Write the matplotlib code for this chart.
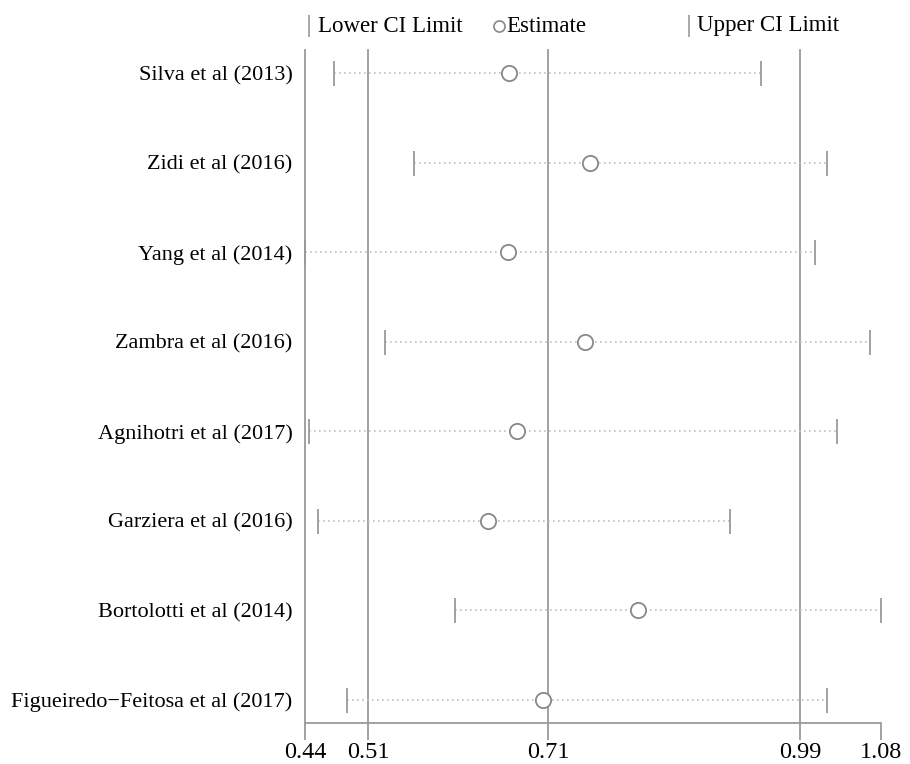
import numpy as np
import matplotlib.pyplot as plt

plt.rcParams['font.family'] = ['Liberation Serif', 'DejaVu Serif']

# Study labels (top to bottom) and values
studies = ['Silva et al (2013)', 'Zidi et al (2016)', 'Yang et al (2014)',
           'Zambra et al (2016)', 'Agnihotri et al (2017)', 'Garziera et al (2016)',
           'Bortolotti et al (2014)', 'Figueiredo\u2212Feitosa et al (2017)']
lower = [0.472, 0.561, 0.440, 0.529, 0.444, 0.454, 0.607, 0.487]
estimate = [0.667, 0.757, 0.666, 0.751, 0.676, 0.643, 0.810, 0.704]
upper = [0.947, 1.020, 1.007, 1.068, 1.031, 0.912, 1.080, 1.020]

xticks = [0.44, 0.51, 0.71, 0.99, 1.08]
ref_lines = [0.44, 0.51, 0.71, 0.99]

grey = '#9a9a9a'
W, H = 910, 764
fig = plt.figure(figsize=(W / 100, H / 100), dpi=100)
ax = fig.add_axes([305 / W, (H - 723) / H, (881 - 305) / W, (723 - 50) / H])

n = len(studies)
y = np.arange(n, 0, -1)

for xv in ref_lines:
    ax.axvline(xv, color=grey, lw=1.3, zorder=1, clip_on=False)

for yi, lo, est, up in zip(y, lower, estimate, upper):
    ax.plot([lo, up], [yi, yi], color='#c0c0c0', lw=1.2, ls=(0, (1, 2)), zorder=2)
ax.plot(lower, y, ls='none', marker='|', ms=18, mew=1.3, color=grey, zorder=3, clip_on=False)
ax.plot(upper, y, ls='none', marker='|', ms=18, mew=1.3, color=grey, zorder=3, clip_on=False)
ax.plot(estimate, y, ls='none', marker='o', ms=11, mfc='white', mec='#888888', mew=1.3,
        zorder=4, clip_on=False)

ax.set_xlim(0.44, 1.08)
ax.set_ylim(1 - 0.257, n + 0.257)

for s in ['top', 'right', 'left']:
    ax.spines[s].set_visible(False)
ax.spines['bottom'].set_color(grey)
ax.spines['bottom'].set_linewidth(1.3)

ax.set_xticks(xticks)
ax.set_xticklabels([f'{v:.2f}' for v in xticks], fontsize=17.5)
ax.tick_params(axis='x', length=12, width=1.3, color=grey, pad=2)
ax.set_yticks(y)
ax.set_yticklabels(studies, fontsize=16)
ax.tick_params(axis='y', length=0, pad=9)

# Legend along the top
ty = (H - 26) / H
fig.lines.append(plt.Line2D([309 / W], [ty], marker='|', ms=16, mew=1.2, color=grey,
                            transform=fig.transFigure))
fig.text(318 / W, ty, 'Lower CI Limit', fontsize=16.5, va='center')
fig.lines.append(plt.Line2D([499 / W], [ty], marker='o', ms=8, mfc='white', mec='#888888',
                            mew=1.2, transform=fig.transFigure))
fig.text(506 / W, ty, 'Estimate', fontsize=16.5, va='center')
fig.lines.append(plt.Line2D([689 / W], [ty], marker='|', ms=16, mew=1.2, color=grey,
                            transform=fig.transFigure))
fig.text(697 / W, ty, 'Upper CI Limit', fontsize=16.5, va='center')

fig.savefig('out.png', dpi=100)
